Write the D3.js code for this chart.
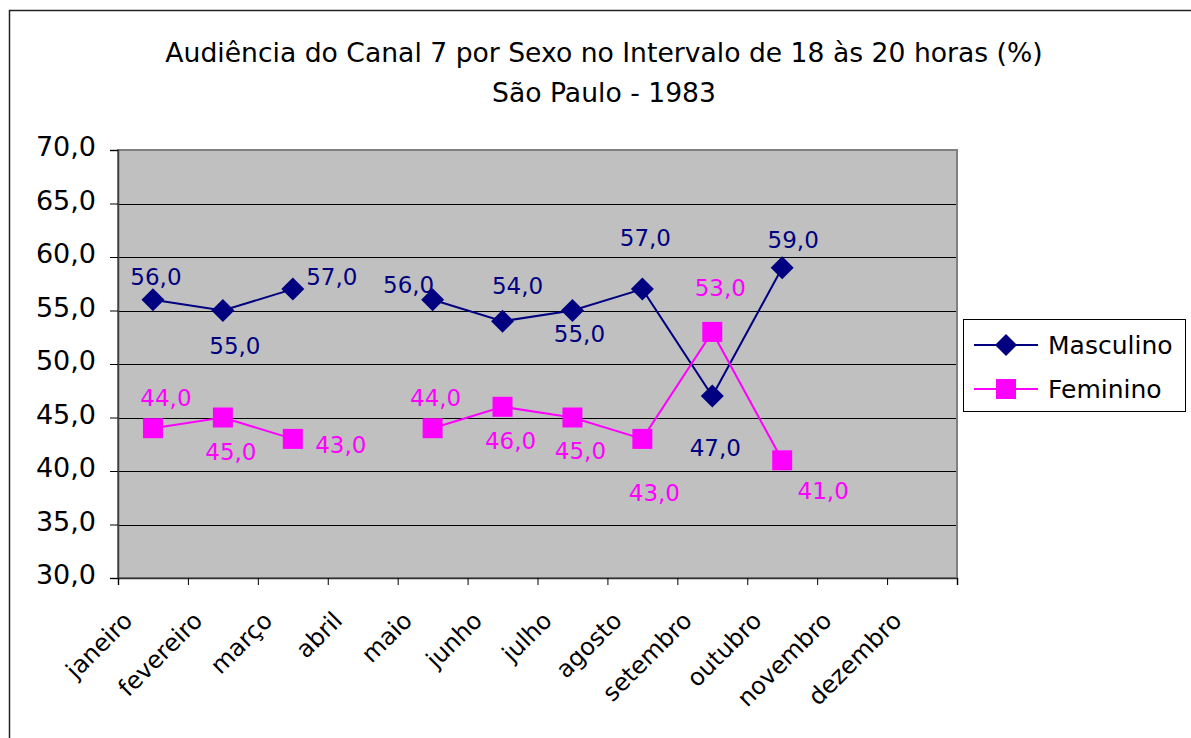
<!DOCTYPE html>
<html>
<head>
<meta charset="utf-8">
<script src="https://cdn.jsdelivr.net/npm/d3@7"></script>
<style>
  html, body { margin: 0; padding: 0; background: #fff; }
  svg { display: block; }
  text { font-family: "Comic Sans MS", "DejaVu Sans", sans-serif; }
</style>
</head>
<body>
<svg id="chart" width="1191" height="738"></svg>
<script>
// ---- data ----
const titleLines = ["Audiência do Canal 7 por Sexo no Intervalo de 18 às 20 horas (%)", "São Paulo - 1983"];
const categories = ["janeiro", "fevereiro", "março", "abril", "maio", "junho", "julho", "agosto", "setembro", "outubro", "novembro", "dezembro"];
const seriesNames = ["Masculino", "Feminino"];
const masculino = [56, 55, 57, null, 56, 54, 55, 57, 47, 59, null, null];
const feminino  = [44, 45, 43, null, 44, 46, 45, 43, 53, 41, null, null];
const yTicks = [30, 35, 40, 45, 50, 55, 60, 65, 70];

// ---- label placement (style: offsets of data labels from their point) ----
const mascLabelOffset = [[3,-23],[12,35],[39,-12],null,[-24,-15],[15,-35],[7,23],[3,-51],[3,52],[11,-28],null,null];
const femLabelOffset  = [[13,-30],[8,34],[48,6],null,[3,-30],[8,34],[8,33],[12,54],[8,-44],[41,30],null,null];

const colors = ["#000080", "#FF00FF"];
const svg = d3.select("#chart");

// outer frame
svg.append("rect").attr("x", 9.5).attr("y", 10.5).attr("width", 1300).attr("height", 900)
  .attr("fill", "#fff").attr("stroke", "#222").attr("stroke-width", 1.5);

const plot = {left: 118, top: 150, right: 957, bottom: 578};

const y = d3.scaleLinear().domain([30, 70]).range([plot.bottom, plot.top]);
const xBand = d3.scaleBand().domain(categories).range([plot.left, plot.right]).padding(0);
const xEdge = d3.scaleLinear().domain([0, categories.length]).range([plot.left, plot.right]);
const xc = i => xBand(categories[i]) + xBand.bandwidth() / 2;

// title
const titleG = svg.append("g");
titleLines.forEach((t, i) => {
  titleG.append("text").attr("x", 604).attr("y", i === 0 ? 62 : 102)
    .attr("text-anchor", "middle").attr("font-size", 24).attr("fill", "#000").text(t);
});
// fit title size to reference width
{
  const first = titleG.select("text").node();
  const w = first.getComputedTextLength();
  const fs = 24 * 878 / w;
  titleG.selectAll("text").attr("font-size", fs);
}

// plot background
svg.append("rect").attr("x", plot.left).attr("y", plot.top)
  .attr("width", plot.right - plot.left).attr("height", plot.bottom - plot.top)
  .attr("fill", "#C0C0C0");

// gridlines
svg.append("g").selectAll("line").data(yTicks.filter(d => d > 30 && d < 70)).join("line")
  .attr("x1", plot.left).attr("x2", plot.right)
  .attr("y1", d => Math.round(y(d)) + 0.5).attr("y2", d => Math.round(y(d)) + 0.5)
  .attr("stroke", "#000").attr("stroke-width", 1);

// plot border
svg.append("rect").attr("x", plot.left).attr("y", plot.top)
  .attr("width", plot.right - plot.left).attr("height", plot.bottom - plot.top)
  .attr("fill", "none").attr("stroke", "#808080").attr("stroke-width", 2);

// y axis
const yAxis = svg.append("g").attr("transform", `translate(${plot.left},0)`)
  .call(d3.axisLeft(y).tickValues(yTicks).tickSize(8).tickPadding(14)
    .tickFormat(d => d.toFixed(1).replace(".", ",")));
yAxis.select(".domain").attr("stroke", "#404040").attr("stroke-width", 1.5);
yAxis.selectAll(".tick line").attr("stroke", "#000");
yAxis.selectAll(".tick text").attr("font-size", 27).attr("fill", "#000")
  .attr("font-family", '"Comic Sans MS", "DejaVu Sans", sans-serif').attr("dy", "0.22em");

// x axis (ticks on category edges)
const xAxis = svg.append("g").attr("transform", `translate(0,${plot.bottom})`)
  .call(d3.axisBottom(xEdge).tickValues(d3.range(categories.length + 1)).tickSize(7).tickFormat(""));
xAxis.select(".domain").attr("stroke", "#303030").attr("stroke-width", 1.5);
xAxis.selectAll(".tick line").attr("stroke", "#000");

// x labels
svg.append("g").selectAll("text").data(categories).join("text")
  .attr("transform", (d, i) => `translate(${xc(i) - 19},622) rotate(-45)`)
  .attr("text-anchor", "end").attr("font-size", 24).attr("fill", "#000")
  .text(d => d);

// series
const series = [masculino, feminino];
const line = d3.line().defined(d => d.v != null).x(d => xc(d.i)).y(d => y(d.v));
const diamond = s => `M0,${-s}L${s},0L0,${s}L${-s},0Z`;

series.forEach((vals, si) => {
  const pts = vals.map((v, i) => ({v, i}));
  svg.append("path").datum(pts).attr("d", line)
    .attr("fill", "none").attr("stroke", colors[si]).attr("stroke-width", 2);
  const g = svg.append("g");
  const valid = pts.filter(d => d.v != null);
  if (si === 0) {
    g.selectAll("path").data(valid).join("path")
      .attr("d", diamond(11.5))
      .attr("transform", d => `translate(${xc(d.i)},${y(d.v)})`)
      .attr("fill", colors[si]);
  } else {
    g.selectAll("rect").data(valid).join("rect")
      .attr("x", d => xc(d.i) - 10).attr("y", d => y(d.v) - 10)
      .attr("width", 20).attr("height", 20).attr("fill", colors[si]);
  }
});

// data labels
[[masculino, mascLabelOffset], [feminino, femLabelOffset]].forEach(([vals, offs], si) => {
  svg.append("g").selectAll("text")
    .data(vals.map((v, i) => ({v, i})).filter(d => d.v != null)).join("text")
    .attr("x", d => xc(d.i) + offs[d.i][0])
    .attr("y", d => y(d.v) + offs[d.i][1])
    .attr("dy", "0.36em")
    .attr("text-anchor", "middle").attr("font-size", 23).attr("fill", colors[si])
    .text(d => d.v.toFixed(1).replace(".", ","));
});

// legend
const leg = svg.append("g");
leg.append("rect").attr("x", 963.5).attr("y", 319.5).attr("width", 222).attr("height", 92)
  .attr("fill", "#fff").attr("stroke", "#000").attr("stroke-width", 1);
seriesNames.forEach((name, si) => {
  const ly = si === 0 ? 345 : 389;
  leg.append("line").attr("x1", 974).attr("x2", 1038).attr("y1", ly).attr("y2", ly)
    .attr("stroke", colors[si]).attr("stroke-width", 2);
  if (si === 0) {
    leg.append("path").attr("d", diamond(11)).attr("transform", `translate(1006,${ly})`).attr("fill", colors[si]);
  } else {
    leg.append("rect").attr("x", 996).attr("y", ly - 10).attr("width", 20).attr("height", 20).attr("fill", colors[si]);
  }
  leg.append("text").attr("x", 1048).attr("y", ly).attr("dy", "0.36em")
    .attr("font-size", 25).attr("fill", "#000").text(name);
});
</script>
</body>
</html>
